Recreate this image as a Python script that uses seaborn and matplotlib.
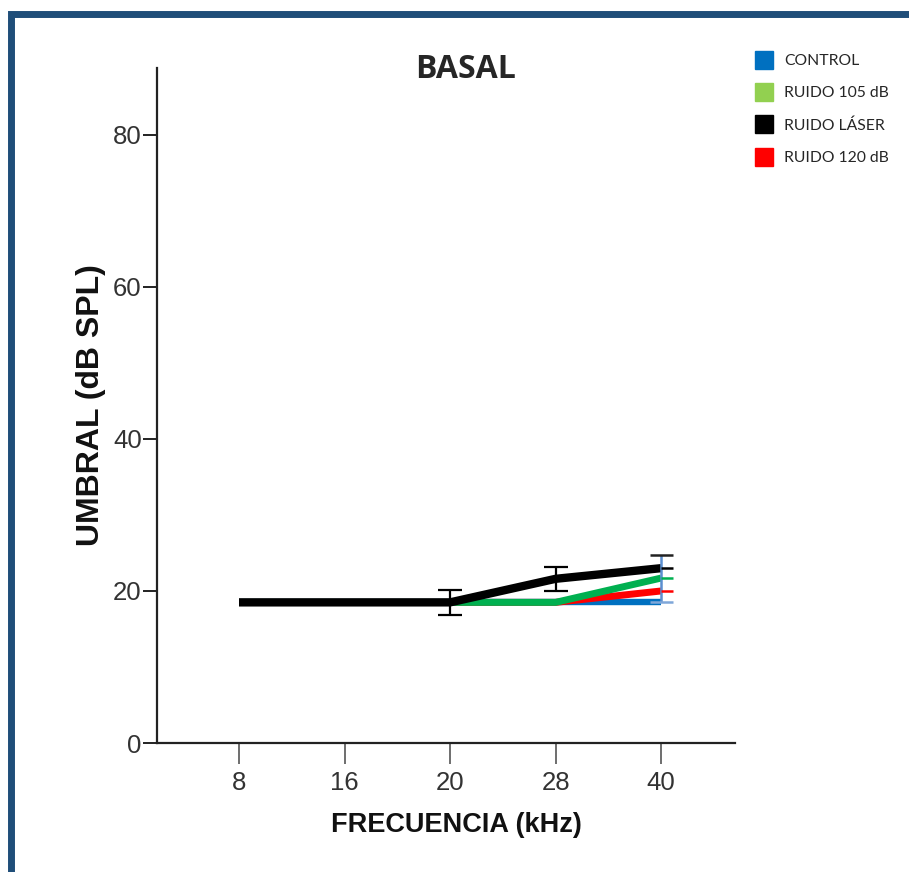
import matplotlib
matplotlib.use("Agg")
import matplotlib.pyplot as plt
from matplotlib.lines import Line2D
from matplotlib.patches import Rectangle
import seaborn as sns
import pandas as pd
import numpy as np

# ---- data ----
frequencies = ["8", "16", "20", "28", "40"]
control = [18.5, 18.5, 18.5, 18.5, 18.5]
ruido_105 = [18.5, 18.5, 18.5, 18.5, 21.7]
ruido_laser = [18.5, 18.5, 18.5, 21.6, 23.0]
ruido_120 = [18.5, 18.5, 18.5, 18.5, 20.0]
laser_err = [0.0, 0.0, 1.6, 1.6, 1.7]
series_names = ["CONTROL", "RUIDO 105 dB", "RUIDO LÁSER", "RUIDO 120 dB"]
legend_colors = ["#0070C0", "#92D050", "#000000", "#FF0000"]
line_colors = {"CONTROL": "#0070C0", "RUIDO 105 dB": "#00B050",
               "RUIDO LÁSER": "#000000", "RUIDO 120 dB": "#FF0000"}
yticks = [0, 20, 40, 60, 80]

sns.set_style("white")
plt.rcParams['font.family'] = ['Liberation Sans', 'DejaVu Sans']

fig = plt.figure(figsize=(9.09, 8.72), dpi=100)
ax = fig.add_axes([157/909, 1-743/872, (735-157)/909, (743-68)/872])

pos = np.arange(len(frequencies))
rows = []
for name, vals in zip(series_names, [control, ruido_105, ruido_laser, ruido_120]):
    for p, v in zip(pos, vals):
        rows.append({"pos": p, "val": v, "grupo": name})
df = pd.DataFrame(rows)

draw_order = ["CONTROL", "RUIDO 120 dB", "RUIDO 105 dB", "RUIDO LÁSER"]
widths = {"CONTROL": 4.6, "RUIDO 120 dB": 5.0, "RUIDO 105 dB": 5.0, "RUIDO LÁSER": 6.0}
for z, name in enumerate(draw_order):
    sub = df[df["grupo"] == name]
    sns.lineplot(data=sub, x="pos", y="val", color=line_colors[name],
                 linewidth=widths[name], ax=ax, legend=False, zorder=3 + z,
                 solid_capstyle="butt")

# error bars for black series at 20 and 28
for i in [2, 3]:
    ax.errorbar(pos[i], ruido_laser[i], yerr=laser_err[i], color="black",
                linewidth=1.6, capsize=8.5, capthick=1.6, zorder=10)

# error bars at 40
i = 4
top = ruido_laser[i] + laser_err[i]
ax.vlines(pos[i], control[i], top, color="#5B8FD0", linewidth=1.8, zorder=9)
ax.hlines(top, pos[i] - 0.11, pos[i] + 0.11, color="#222222", linewidth=1.8, zorder=10)
ax.hlines(control[i], pos[i] - 0.11, pos[i] + 0.11, color="#7FA7D9", linewidth=1.8, zorder=10)
for vals, c in [(ruido_laser, "#000000"), (ruido_105, "#00B050"), (ruido_120, "#FF0000")]:
    ax.hlines(vals[i], pos[i], pos[i] + 0.11, color=c, linewidth=1.8, zorder=10)

ax.set_xlim(-0.777, 4.70)
ax.set_ylim(0, 88.8)
ax.set_xticks(pos)
ax.set_xticklabels(frequencies)
ax.set_yticks(yticks)
ax.set_yticklabels([str(t) for t in yticks])
for s in ["top", "right"]:
    ax.spines[s].set_visible(False)
for s in ["left", "bottom"]:
    ax.spines[s].set_linewidth(1.6)
    ax.spines[s].set_color("#222222")
ax.tick_params(axis="y", direction="out", length=10, width=1.4, color="#222222",
               labelsize=18.5, labelcolor="#333333", pad=1, left=True)
ax.tick_params(axis="x", direction="out", length=15, width=1.2, color="#555555",
               labelsize=18.5, labelcolor="#333333", pad=5, bottom=True)

ax.set_xlabel("FRECUENCIA (kHz)", fontsize=19.5, fontweight="bold", color="#111111",
              va="top", ha="center")
ax.xaxis.set_label_coords((456 - 157) / 578, (743 - 812) / 675)
ax.set_ylabel("UMBRAL (dB SPL)", fontsize=23, fontweight="bold", color="#111111")
ax.yaxis.set_label_coords((106 - 157) / 578, (743 - 405) / 675)

fig.text(466/909, 1-69/872, "BASAL", ha="center", va="center", fontsize=23,
         fontweight="bold", family=["Open Sans", "DejaVu Sans"])

handles = [Line2D([], [], marker="s", linestyle="none", markersize=12.5,
                  markerfacecolor=c, markeredgecolor=c) for c in legend_colors]
fig.legend(handles, series_names, loc="upper left", bbox_to_anchor=(755/909, 1-54/872),
           frameon=False, labelspacing=1.16, handletextpad=0.65,
           borderaxespad=0, borderpad=0, handlelength=1.2,
           prop={"family": ["Lato", "DejaVu Sans"], "size": 11.3})

# figure border
fig.patches.append(Rectangle((11/909, -0.1), 1.2, (1-14/872) + 0.1, transform=fig.transFigure,
                             fill=False, edgecolor="#1F4E79", linewidth=5, zorder=0))

fig.savefig("out.png", dpi=100)
